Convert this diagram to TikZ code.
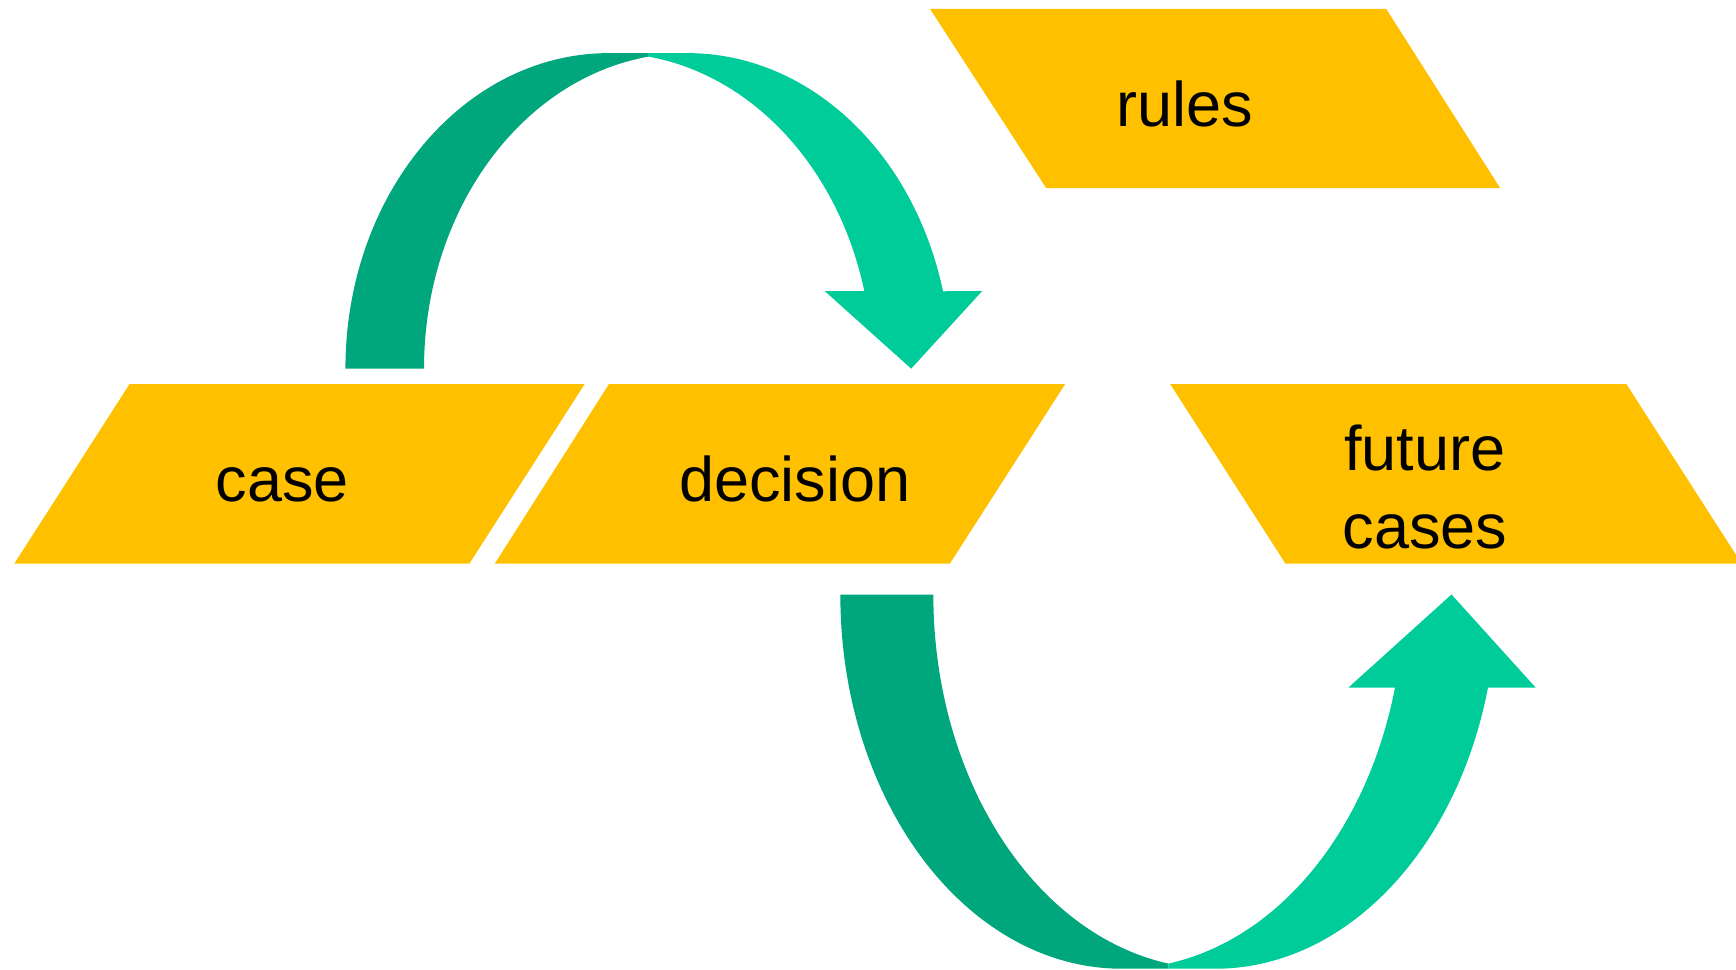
\documentclass[tikz,border=0pt]{standalone}
\usepackage{fontspec}
\setmainfont{Liberation Sans}
\definecolor{amarelo}{HTML}{FFC000}
\definecolor{verdeclaro}{HTML}{00CC99}
\definecolor{verdeescuro}{HTML}{00A67C}
\tikzset{
  caixa/.style={fill=amarelo, draw=none},
  rotulo/.style={anchor=base, align=center, inner sep=0pt, font=\fontsize{16.2}{19.9}\selectfont}
}
\begin{document}
\begin{tikzpicture}

		\useasboundingbox (0,0) rectangle (15.68,8.76);

		% Paralelogramos
		\draw[caixa] (1.17,5.29) -- (5.28,5.29) -- (4.24,3.67) -- (0.13,3.67) -- cycle;
		\draw[caixa] (5.50,5.29) -- (9.62,5.29) -- (8.58,3.67) -- (4.47,3.67) -- cycle;
		\draw[caixa] (8.40,8.68) -- (12.52,8.68) -- (13.55,7.06) -- (9.45,7.06) -- cycle;
		\draw[caixa] (10.57,5.29) -- (14.69,5.29) -- (15.73,3.67) -- (11.61,3.67) -- cycle;

		% Textos
		\node[rotulo] (case) at (2.55,4.23) {case};
		\node[rotulo] (decision) at (7.18,4.23) {decision};
		\node[rotulo] (rules) at (10.70,7.62) {rules};
		\node[rotulo] (future) at (12.87,3.81) {future\\cases};

		% Seta de cima (parte escura)
		\fill[verdeescuro] (3.12,5.43) arc[start angle=180, end angle=90, x radius=2.38, y radius=2.85]
		-- (5.854,8.28) -- (5.854,8.248)
		arc[start angle=98.6, end angle=180, x radius=2.38, y radius=2.85] -- cycle;

		% Seta de cima (parte clara)
		\fill[verdeclaro] (5.854,8.248) -- (5.854,8.28) -- (6.21,8.28)
		arc[start angle=90, end angle=14.2, x radius=2.38, y radius=2.85]
		-- (8.87,6.13) -- (8.23,5.43) -- (7.45,6.13) -- (7.807,6.13)
		arc[start angle=14.2, end angle=81.4, x radius=2.38, y radius=2.85] -- cycle;

		% Seta de baixo (parte escura)
		\fill[verdeescuro] (7.59,3.39) arc[start angle=180, end angle=270, x radius=2.545, y radius=3.38]
		-- (10.555,0.01) -- (10.555,0.056)
		arc[start angle=260.5, end angle=180, x radius=2.545, y radius=3.38] -- cycle;

		% Seta de baixo (parte clara)
		\fill[verdeclaro] (10.555,0.056) -- (10.555,0.01) -- (10.975,0.01)
		arc[start angle=270, end angle=345.6, x radius=2.545, y radius=3.38]
		-- (13.87,2.55) -- (13.11,3.39) -- (12.18,2.55) -- (12.60,2.55)
		arc[start angle=345.6, end angle=279.5, x radius=2.545, y radius=3.38] -- cycle;

\end{tikzpicture}
\end{document}
